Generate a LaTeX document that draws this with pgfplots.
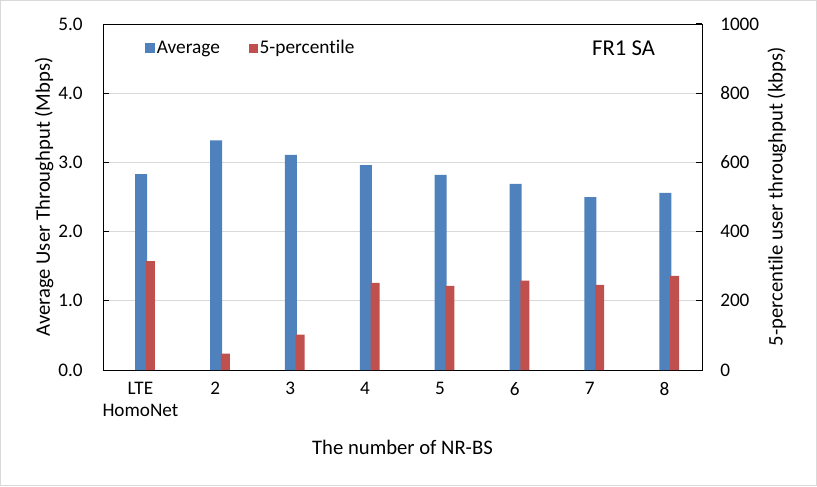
\documentclass[border=0pt]{standalone}
\usepackage{fontspec}
\setmainfont{Carlito}[Ligatures={NoCommon}]
\usepackage{pgfplots}
\usepackage{pgfplotstable}
\pgfplotsset{compat=1.18}
\definecolor{cblue}{HTML}{4F81BD}
\definecolor{cred}{HTML}{C0504D}
\definecolor{cgrid}{HTML}{D9D9D9}

\pgfplotstableread{
x avg
0 2.83
1 3.32
2 3.11
3 2.96
4 2.82
5 2.69
6 2.50
7 2.56
}\avgdata
\pgfplotstableread{
x p5
0 315
1 47
2 102
3 252
4 243
5 258
6 246
7 272
}\pdata

\pgfplotsset{
  common/.style={
    at={(77.25pt,87pt)}, anchor=south west,
    width=449.25pt, height=259.5pt, scale only axis,
    xmin=-0.5, xmax=7.5, ymin=0,
    /pgf/number format/assume math mode=true,
    tick label style={font=\fontsize{14.4}{16.5}\selectfont, inner sep=0pt},
    label style={font=\fontsize{15.5}{18}\selectfont},
    tick align=inside, major tick length=4.5pt,
    every tick/.style={black, line width=0.75pt},
    axis line style={black, line width=0.75pt},
  }
}

\begin{document}
\begin{tikzpicture}[x=1pt,y=1pt]
\useasboundingbox (0,0) rectangle (612.75,364.5);
\draw[cgrid, line width=1.1pt] (0.55,0.55) rectangle (612.2,363.95);
\begin{axis}[
  common,
  ymax=5,
  ytick={0,1,...,5},
  yticklabel style={/pgf/number format/.cd, fixed, fixed zerofill, precision=1, /tikz/.cd, anchor=east, xshift=-15pt},
  ytick pos=left,
  xtick={0,...,7},
  xticklabels={{LTE\\HomoNet},2,3,4,5,6,7,8},
  xticklabel style={align=center, anchor=north, yshift=-9pt},
  xtick pos=bottom,
  xtick style={draw=none},
  ymajorgrids, grid style={cgrid, line width=0.75pt},
  xlabel={The number of NR-BS},
  xlabel style={at={(axis description cs:0.5,-0.2225)}, anchor=center},
  ylabel={Average User Throughput (Mbps)},
  ylabel style={at={(axis description cs:-0.0985,0.5)}, anchor=center},
]
\addplot[ybar, bar width=0.16, bar shift=0.01, fill=cblue, draw=none] table[x=x, y=avg] {\avgdata};
\node[font=\fontsize{17}{20}\selectfont] at (rel axis cs:0.869,0.93) {FR1 SA};
\end{axis}
\begin{axis}[
  common,
  ymax=1000,
  ytick={0,200,...,1000},
  yticklabel style={/pgf/number format/.cd, fixed, 1000 sep={}, /tikz/.cd, anchor=west, xshift=13.5pt},
  axis y line*=right,
  axis x line=none,
  ylabel={5-percentile user throughput (kbps)},
  ylabel style={at={(axis description cs:1.125,0.5)}, anchor=center, rotate=0},
  legend style={at={(rel axis cs:0.07,0.93)}, anchor=west, draw=none, fill=none,
    font=\fontsize{14.5}{17}\selectfont, legend columns=2, inner sep=0pt,
    nodes={inner sep=1.5pt},
    /tikz/every even column/.append style={column sep=20pt}},
  legend cell align=left,
]
\addlegendimage{legend image code/.code={\fill[cblue] (0pt,-3.4pt) rectangle (6.8pt,3.4pt);}}
\addlegendentry{Average}
\addplot[ybar, bar width=0.12, bar shift=0.134, fill=cred, draw=none,
  legend image code/.code={\fill[cred] (0pt,-3.4pt) rectangle (6.8pt,3.4pt);}] table[x=x, y=p5] {\pdata};
\addlegendentry{5-percentile}
\end{axis}
\end{tikzpicture}
\end{document}
